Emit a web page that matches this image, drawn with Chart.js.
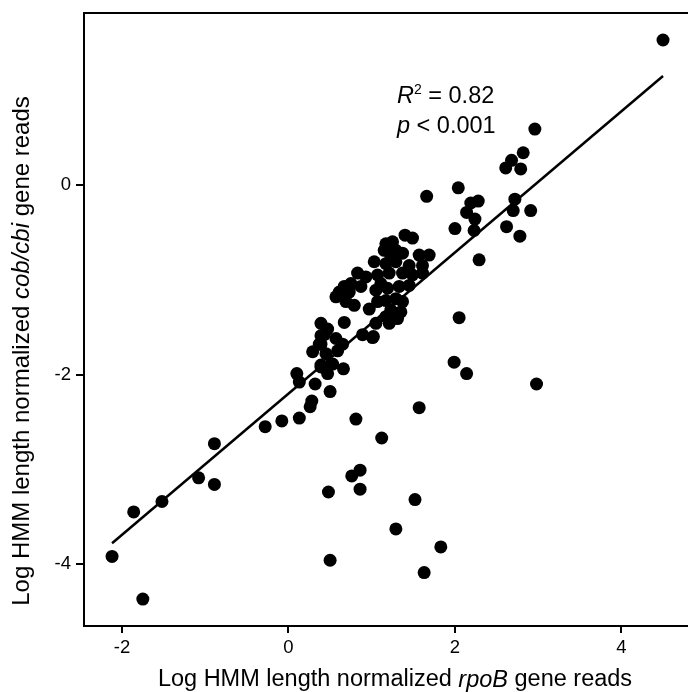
<!DOCTYPE html>
<html>
<head>
<meta charset="utf-8">
<script src="https://cdn.jsdelivr.net/npm/chart.js@4"></script>
<style>
  html, body { margin: 0; padding: 0; background: #fff; overflow: hidden; }
</style>
</head>
<body>
<canvas id="chart" width="688" height="692"></canvas>
<script>
// log HMM length normalized reads, rpoB (x) vs cob/cbi (y)
const rpoB = [
  4.50, 2.96, 2.82, 2.68, 2.61, 2.79, 1.66, 2.04, 2.19, 2.28, 2.14, 2.24, 2.00, 2.23,
  2.72, 2.70, 2.91, 2.62, 2.78, 2.29, 1.69, 2.05, 1.99, 2.14, 2.98, 1.57, 0.81, 1.12,
  0.86, 0.76, 0.86, 0.48, 1.52, 1.29, 1.83, 0.50, 1.63, 1.02, 0.89, 0.66, 0.50, 0.32,
  0.28, 0.26, 0.13, -2.12, -1.75, -1.86, -1.52, -1.08, -0.89, -0.89, -0.28, -0.08, 0.10,
  0.13, 0.29, 0.39, 0.39, 0.43,
  1.40, 1.49, 1.17, 1.25, 1.15, 1.29, 1.23, 1.37, 1.57, 1.61, 1.03, 1.17, 1.29, 1.45,
  0.83, 0.93, 1.07, 1.21, 1.37, 1.49, 1.61, 0.75, 0.87, 1.11, 1.05, 1.19, 1.33, 1.45,
  0.67, 0.61, 0.57, 0.73, 0.79, 0.69, 0.97, 1.07, 1.17, 1.29, 1.37, 1.23, 1.35, 1.17,
  1.31, 1.21, 1.05, 0.67, 0.39, 0.47, 0.39, 1.01, 0.57, 0.37, 0.65, 0.45, 0.59, 0.39,
  0.53, 0.47
];
const cobCbi = [
  1.53, 0.59, 0.34, 0.26, 0.18, 0.17, -0.12, -0.03, -0.19, -0.17, -0.29, -0.36, -0.46, -0.48,
  -0.15, -0.27, -0.27, -0.44, -0.54, -0.79, -0.74, -1.40, -1.87, -1.99, -2.10, -2.35, -2.47, -2.67,
  -3.01, -3.07, -3.21, -3.24, -3.32, -3.63, -3.82, -3.96, -4.09, -1.60, -1.58, -1.94, -2.18, -2.10,
  -2.28, -2.34, -2.46, -3.92, -4.37, -3.45, -3.34, -3.09, -3.16, -2.73, -2.55, -2.49, -1.99,
  -2.08, -1.76, -1.92, -1.68, -1.58,
  -0.53, -0.56, -0.62, -0.60, -0.69, -0.69, -0.76, -0.72, -0.74, -0.85, -0.81, -0.83, -0.81, -0.85,
  -0.93, -0.97, -0.95, -0.93, -0.93, -0.95, -0.93, -1.04, -1.07, -1.04, -1.11, -1.09, -1.07, -1.06,
  -1.07, -1.13, -1.18, -1.13, -1.27, -1.23, -1.31, -1.23, -1.22, -1.20, -1.23, -1.32, -1.34, -1.39,
  -1.41, -1.46, -1.46, -1.45, -1.46, -1.52, -1.59, -1.61, -1.62, -1.68, -1.68, -1.78, -1.75, -1.90,
  -1.89, -1.99
];

// fitted regression line end points
const fitX = [-2.12, 4.50];
const fitY = [-3.78, 1.15];

const xTicks = [-2, 0, 2, 4];
const yTicks = [-4, -2, 0];

const FONT = '"Liberation Sans", Arial, sans-serif';

// draw a run of plain/italic pieces, centred on (cx, cy)
function drawMixed(ctx, pieces, size, cx, cy, angle) {
  ctx.save();
  ctx.translate(cx, cy);
  ctx.rotate(angle || 0);
  ctx.fillStyle = '#000';
  ctx.textBaseline = 'middle';
  ctx.textAlign = 'left';
  let total = 0;
  pieces.forEach(p => {
    ctx.font = (p.i ? 'italic ' : '') + size + 'px ' + FONT;
    total += ctx.measureText(p.t).width;
  });
  let x = -total / 2;
  pieces.forEach(p => {
    ctx.font = (p.i ? 'italic ' : '') + size + 'px ' + FONT;
    ctx.fillText(p.t, x, 0);
    x += ctx.measureText(p.t).width;
  });
  ctx.restore();
}

const decorations = {
  id: 'decorations',
  afterDraw(chart) {
    const ctx = chart.ctx;
    const a = chart.chartArea;

    // top frame line
    ctx.save();
    ctx.strokeStyle = '#000';
    ctx.lineWidth = 2;
    ctx.beginPath();
    ctx.moveTo(a.left - 1, a.top);
    ctx.lineTo(chart.width, a.top);
    ctx.stroke();
    ctx.restore();

    // axis titles
    drawMixed(ctx, [
      { t: 'Log HMM length normalized ' },
      { t: 'rpoB', i: true },
      { t: ' gene reads' }
    ], 23.5, 395, 680);
    drawMixed(ctx, [
      { t: 'Log HMM length normalized ' },
      { t: 'cob/cbi', i: true },
      { t: ' gene reads' }
    ], 24, 22, 351, -Math.PI / 2);

    // statistics
    ctx.save();
    ctx.fillStyle = '#000';
    ctx.textBaseline = 'alphabetic';
    ctx.textAlign = 'left';
    let x = 397;
    ctx.font = 'italic 23.5px ' + FONT;
    ctx.fillText('R', x, 103);
    x += ctx.measureText('R').width;
    ctx.font = '14px ' + FONT;
    ctx.fillText('2', x, 94);
    x += ctx.measureText('2').width;
    ctx.font = '23.5px ' + FONT;
    ctx.fillText(' = 0.82', x, 103);

    x = 397;
    ctx.font = 'italic 23.5px ' + FONT;
    ctx.fillText('p', x, 133);
    x += ctx.measureText('p').width;
    ctx.font = '23.5px ' + FONT;
    ctx.fillText(' < 0.001', x, 133);
    ctx.restore();
  }
};

const ctx = document.getElementById('chart').getContext('2d');
new Chart(ctx, {
  type: 'scatter',
  data: {
    datasets: [
      {
        label: 'samples',
        data: rpoB.map((v, i) => ({ x: v, y: cobCbi[i] })),
        pointRadius: 6.5,
        pointBackgroundColor: '#000',
        pointBorderWidth: 0,
        order: 2
      },
      {
        type: 'line',
        label: 'fit',
        data: fitX.map((v, i) => ({ x: v, y: fitY[i] })),
        borderColor: '#000',
        borderWidth: 2.5,
        pointRadius: 0,
        fill: false,
        order: 1
      }
    ]
  },
  options: {
    responsive: false,
    animation: false,
    devicePixelRatio: 1,
    layout: { autoPadding: false, padding: { top: 13, right: 0, bottom: 0, left: 0 } },
    plugins: {
      legend: { display: false },
      tooltip: { enabled: false }
    },
    scales: {
      x: {
        type: 'linear',
        min: -2.457,
        max: 4.8,
        afterFit: s => { s.height = 66; s.paddingLeft = 0; s.paddingRight = 0; },
        afterBuildTicks: s => { s.ticks = xTicks.map(v => ({ value: v })); },
        border: { display: true, color: '#000', width: 2 },
        grid: { drawOnChartArea: false, color: '#000', tickLength: 7, lineWidth: 2 },
        ticks: {
          color: '#000',
          font: { family: FONT, size: 18.5 },
          padding: 4,
          maxRotation: 0,
          callback: v => String(v)
        }
      },
      y: {
        type: 'linear',
        min: -4.654,
        max: 1.815,
        afterFit: s => { s.width = 84; s.paddingTop = 0; s.paddingBottom = 0; },
        afterBuildTicks: s => { s.ticks = yTicks.map(v => ({ value: v })); },
        border: { display: true, color: '#000', width: 2 },
        grid: { drawOnChartArea: false, color: '#000', tickLength: 8, lineWidth: 2 },
        ticks: {
          color: '#000',
          font: { family: FONT, size: 18.5 },
          padding: 5,
          callback: v => String(v)
        }
      }
    }
  },
  plugins: [decorations]
});
</script>
</body>
</html>
